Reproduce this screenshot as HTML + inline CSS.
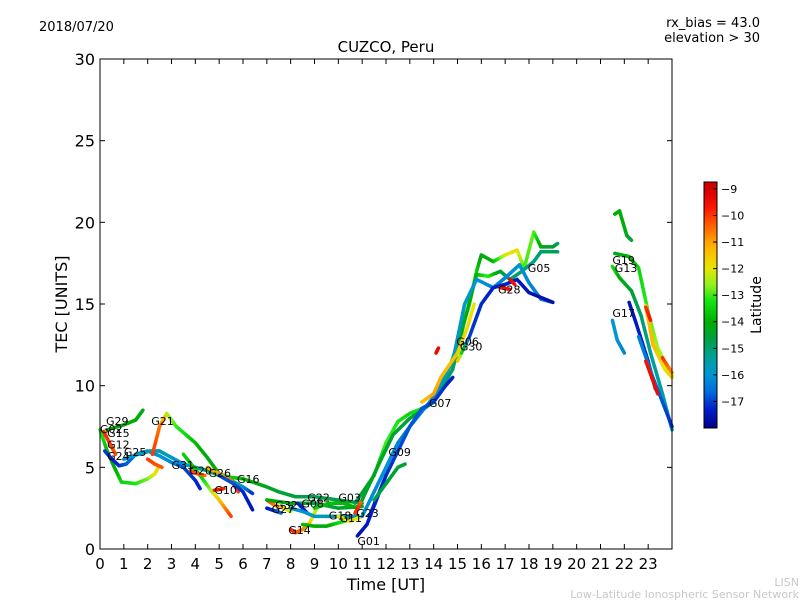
<!DOCTYPE html>
<html><head><meta charset="utf-8"><style>
body{margin:0;background:#fff;}
svg{display:block;font-family:"DejaVu Sans","Liberation Sans",sans-serif;}
</style></head><body>
<svg id="chart" width="800" height="600" viewBox="0 0 800 600" xmlns="http://www.w3.org/2000/svg">
<rect width="800" height="600" fill="#fff"/>
<text x="39" y="31" font-size="13">2018/07/20</text>
<text x="760" y="27" font-size="13" text-anchor="end">rx_bias = 43.0</text>
<text x="760" y="42" font-size="13" text-anchor="end">elevation &gt; 30</text>
<text x="386" y="52" font-size="15" text-anchor="middle">CUZCO, Peru</text>
<text x="386" y="590" font-size="16" text-anchor="middle">Time [UT]</text>
<text x="0" y="0" font-size="16" text-anchor="middle" transform="translate(67,304) rotate(-90)">TEC [UNITS]</text>
<text x="799" y="586" font-size="11" fill="#c8c8c8" text-anchor="end">LISN</text>
<text x="799" y="598" font-size="11" fill="#c8c8c8" text-anchor="end">Low-Latitude Ionospheric Sensor Network</text>
<g id="traces"></g>
<g id="labels"></g>
<rect x="100" y="59" width="572" height="490" fill="none" stroke="#000" stroke-width="1"/>
<g id="axes"></g>
<g id="cbar"></g>
<text x="0" y="0" font-size="14" text-anchor="middle" transform="translate(761,305) rotate(-90)">Latitude</text>
</svg>
<script>
const xTicks=[0,1,2,3,4,5,6,7,8,9,10,11,12,13,14,15,16,17,18,19,20,21,22,23];
const yTicks=[0,5,10,15,20,25,30];
const cbTicks=[-9,-10,-11,-12,-13,-14,-15,-16,-17];
const satNames=["G29","G02","G15","G12","G25","G24","G21","G31","G20","G26","G16","G10","G32","G27","G08","G22","G03","G18","G11","G23","G14","G01","G09","G07","G06","G30","G28","G05","G19","G13","G17"];
const labelTime=[0.25,0.0,0.3,0.3,1.0,0.3,2.15,3.0,3.75,4.55,5.75,4.8,7.35,7.2,8.45,8.7,10.0,9.6,10.05,10.75,7.9,10.8,12.1,13.8,14.95,15.1,16.7,17.95,21.5,21.6,21.5];
const labelTec=[7.85,7.35,7.1,6.4,5.95,5.7,7.85,5.15,4.8,4.65,4.3,3.6,2.7,2.45,2.8,3.15,3.15,2.05,1.9,2.2,1.15,0.5,5.95,8.95,12.7,12.4,15.9,17.2,17.7,17.2,14.45];
const traceTimes=[
[0.3,1.0,1.5,1.8],
[0.0,0.3,0.6,0.9,1.5,2.0,2.3,2.45],
[0.15,0.4,0.65],
[0.2,0.5,0.8,1.1,1.5,2.0,2.5,3.0,3.5,4.0,4.2],
[1.0,1.6,2.1,2.5,3.0,3.5,4.0,4.5,5.0,5.5,6.0,6.4],
[2.2,2.5,2.8],
[2.8,3.2,4.0,4.5,5.0,5.4,6.0,7.0,7.5,8.2,9.0,10.0,11.0],
[2.0,2.3,2.6],
[3.5,4.2,4.7,5.0,5.5],
[3.8,4.1,4.4],
[4.8,5.2],
[4.5,5.0,5.5,5.8],
[5.0,5.6,6.0,6.4],
[7.0,7.4,7.6],
[7.0,7.3,7.7,8.0],
[8.0,8.2,8.5,8.8,9.1],
[8.5,9.0,9.5,10.0,10.5],
[7.0,8.0,9.0,10.0,11.0],
[8.3,8.7],
[8.0,8.5,9.0,10.0,10.8],
[9.0,9.6,10.2,10.8],
[10.0,10.5,11.0],
[10.7,10.85,11.0],
[10.8,11.2,11.6,12.0],
[10.7,11.5,12.0,12.5,13.0,13.5,14.0,14.5,15.0,15.5,15.8,16.0,16.5,17.0,17.5,17.8,18.2,18.5,19.0,19.2],
[11.0,11.8,12.3,13.0,14.0,14.8,15.3,15.8,16.3,16.8,17.2,17.7,18.2,18.5,19.2],
[11.0,11.5,12.0,12.5,13.0,14.0,14.8,15.3,15.8,16.5,17.0,17.6,18.0,18.5,19.0],
[11.3,12.0,12.5,13.0,13.5,14.0,14.5,14.8],
[15.0,15.5,16.0,16.5,17.0,17.5,18.0,18.5,19.0],
[11.5,12.0,12.5,12.8],
[13.5,14.0,14.3,15.0,15.4,15.7],
[16.8,17.2],
[17.2,17.4],
[14.1,14.2],
[21.6,21.8,22.1,22.3],
[21.6,22.2,22.6,23.0,23.4,24.0],
[21.5,21.8,22.3,22.7,23.1,23.6,24.0],
[21.5,21.7,22.0],
[22.2,22.5,23.0,23.3],
[22.6,23.2,23.6,24.0],
[22.9,23.2,23.7,24.0],
[22.9,23.1],
[23.6,24.0],
[22.9,23.4]
];
const traceTec=[
[7.3,7.6,7.9,8.5],
[7.3,6.0,5.0,4.1,4.0,4.3,4.6,5.0],
[7.2,6.5,5.8],
[6.0,5.5,5.1,5.2,5.8,6.0,5.7,5.3,5.0,4.2,3.7],
[5.5,5.8,6.0,6.0,5.6,5.2,5.0,4.8,4.5,4.2,3.8,3.4],
[5.8,7.5,8.3],
[8.3,7.5,6.5,5.6,4.6,4.4,4.3,3.8,3.5,3.2,3.2,3.0,2.8],
[5.5,5.2,5.0],
[5.8,4.5,3.5,3.0,2.0],
[4.8,4.6,4.5],
[3.6,3.7],
[5.0,4.6,4.2,3.5],
[4.5,4.0,3.5,2.4],
[2.5,2.3,2.2],
[3.0,2.7,2.5,2.3],
[1.2,1.0,1.2,1.6,2.5],
[1.5,1.4,1.4,1.6,1.8],
[3.0,2.8,2.8,2.5,2.6],
[2.8,2.2],
[2.5,2.3,2.0,2.0,2.0],
[2.5,2.8,2.8,2.5],
[2.0,1.7,2.0],
[2.2,2.6,3.0],
[0.8,1.5,3.0,4.5],
[2.8,4.5,6.5,7.8,8.3,8.6,9.0,10.5,12.5,15.0,17.0,18.0,17.6,18.0,18.3,17.2,19.4,18.5,18.5,18.7],
[3.0,5.5,7.0,8.0,9.0,11.0,14.0,16.8,16.7,17.0,16.5,17.0,17.6,18.2,18.2],
[2.0,3.5,5.0,6.5,7.5,9.3,11.5,15.0,16.5,16.0,16.6,17.4,16.3,15.3,15.1],
[2.0,4.5,6.0,7.5,8.6,9.0,10.0,10.5],
[11.5,13.0,15.0,16.0,16.2,16.5,15.7,15.4,15.1],
[3.0,4.0,5.0,5.2],
[9.0,9.5,10.5,12.0,13.5,15.0],
[16.0,15.9],
[16.5,16.2],
[12.0,12.3],
[20.5,20.7,19.2,18.9],
[18.1,17.9,17.2,14.5,12.3,10.6],
[17.3,16.6,15.8,14.3,12.0,9.5,7.3],
[14.0,12.8,12.0],
[15.1,13.8,11.5,9.8],
[13.0,10.5,9.0,7.5],
[14.9,12.5,11.0,10.5],
[14.8,14.0],
[11.7,10.8],
[11.5,9.5]
];
const traceLat=[
[-13.8,-14.2,-14.0,-14.3],
[-13.0,-13.8,-14.2,-13.5,-13.2,-12.8,-12.0,-11.8],
[-9.8,-10.0,-10.3],
[-17.0,-17.3,-17.2,-16.8,-16.5,-16.3,-16.0,-16.2,-16.8,-17.2,-17.3],
[-16.0,-15.8,-15.6,-15.6,-15.8,-16.2,-15.5,-15.0,-14.8,-14.8,-16.0,-17.2],
[-10.0,-10.5,-11.5],
[-12.3,-13.0,-13.8,-14.2,-14.0,-13.5,-13.8,-14.3,-14.5,-14.6,-14.8,-14.7,-14.5],
[-10.0,-10.2,-10.3],
[-13.5,-13.8,-12.5,-11.5,-10.0],
[-10.0,-10.3,-10.5],
[-9.6,-9.8],
[-11.2,-11.0,-10.6,-10.0],
[-17.0,-16.8,-17.2,-17.5],
[-17.5,-17.0,-16.5],
[-10.0,-10.5,-11.5,-12.5],
[-9.8,-10.0,-10.5,-11.5,-12.5],
[-13.8,-14.0,-14.2,-13.5,-13.0],
[-14.0,-14.2,-14.5,-14.5,-14.3],
[-17.3,-17.5],
[-16.2,-16.0,-15.8,-15.5,-15.8],
[-13.5,-13.8,-13.8,-14.0],
[-12.0,-11.8,-12.2],
[-10.0,-9.8,-10.5],
[-17.6,-17.4,-17.0,-16.8],
[-15.0,-13.8,-13.0,-13.2,-13.5,-13.0,-12.5,-12.8,-13.2,-13.4,-13.5,-14.2,-14.0,-12.2,-11.8,-13.0,-12.8,-14.2,-14.5,-14.8],
[-14.5,-14.3,-14.6,-14.5,-14.8,-15.0,-14.2,-14.0,-13.0,-14.5,-14.8,-15.0,-15.2,-15.0,-14.8],
[-16.0,-16.2,-16.0,-16.2,-16.4,-16.2,-15.8,-15.8,-16.0,-16.2,-16.3,-16.0,-16.2,-16.4,-16.5],
[-17.3,-17.2,-17.0,-16.8,-16.8,-17.0,-17.2,-17.3],
[-11.0,-17.0,-17.2,-17.3,-17.3,-17.4,-17.5,-17.6,-17.6],
[-14.8,-14.6,-14.5,-14.5],
[-11.5,-11.0,-11.2,-11.5,-11.8,-12.0],
[-9.5,-9.5],
[-9.3,-9.6],
[-9.4,-9.4],
[-14.2,-14.0,-14.2,-14.5],
[-14.3,-14.0,-13.5,-13.0,-12.5,-12.5],
[-13.3,-14.0,-14.5,-15.0,-15.3,-15.5,-15.8],
[-16.0,-16.0,-16.3],
[-17.5,-17.4,-17.2,-16.8],
[-16.3,-16.5,-16.8,-17.2],
[-11.6,-11.2,-12.0,-11.6],
[-10.0,-9.6],
[-9.8,-10.8],
[-9.6,-9.4]
];
const NS="http://www.w3.org/2000/svg";
const X0=100,X1=672,Y0=549,Y1=59;
const cbTop=182,cbBot=428,vmax=-8.74,vmin=-18.0;
const cmapStops=[[-18.0,[0,0,140]],[-17.3,[0,30,200]],[-16.6,[0,110,220]],[-16.0,[0,150,210]],[-15.3,[0,160,150]],[-14.6,[0,160,60]],[-14.0,[0,175,0]],[-13.2,[20,230,20]],[-12.6,[150,240,30]],[-12.0,[230,230,0]],[-11.2,[255,180,0]],[-10.5,[255,110,0]],[-9.8,[255,30,0]],[-9.2,[225,0,0]],[-8.74,[200,0,0]]];
function xs(t){return X0+(t/24)*(X1-X0);}
function ys(v){return Y0-(v/30)*(Y0-Y1);}
function cy(l){return cbTop+(vmax-l)/(vmax-vmin)*(cbBot-cbTop);}
function jet(l){
  if(l<=cmapStops[0][0]) l=cmapStops[0][0];
  if(l>=cmapStops[cmapStops.length-1][0]) l=cmapStops[cmapStops.length-1][0];
  for(let i=0;i<cmapStops.length-1;i++){
    const a=cmapStops[i],b=cmapStops[i+1];
    if(l>=a[0]&&l<=b[0]){
      const f=(l-a[0])/(b[0]-a[0]||1);
      const c=a[1].map((v,k)=>Math.round(v+(b[1][k]-v)*f));
      return "rgb("+c.join(",")+")";
    }
  }
  return "rgb(200,0,0)";
}
const tg=document.getElementById('traces');
for(let i=0;i<traceTimes.length;i++){
  const T=traceTimes[i],V=traceTec[i],L=traceLat[i];
  for(let j=0;j<T.length-1;j++){
    const n=6;
    for(let k=0;k<n;k++){
      const a=k/n,b=(k+1)/n;
      const seg=document.createElementNS(NS,'line');
      
      
      seg.setAttribute('x1',xs(T[j]+(T[j+1]-T[j])*a));
      seg.setAttribute('y1',ys(V[j]+(V[j+1]-V[j])*a));
      seg.setAttribute('x2',xs(T[j]+(T[j+1]-T[j])*b));
      seg.setAttribute('y2',ys(V[j]+(V[j+1]-V[j])*b));
      seg.setAttribute('stroke',jet(L[j]+(L[j+1]-L[j])*(a+b)/2));
      seg.setAttribute('stroke-width','3.5');
      seg.setAttribute('stroke-linecap','round');
      tg.appendChild(seg);
    }
  }
}
const lg=document.getElementById('labels');
satNames.forEach((nm,i)=>{
  const t=document.createElementNS(NS,'text');
  
  
  t.setAttribute('x',xs(labelTime[i]));
  t.setAttribute('y',ys(labelTec[i])+4);
  t.setAttribute('font-size','11');
  t.textContent=nm;
  lg.appendChild(t);
});
const ag=document.getElementById('axes');
xTicks.forEach(v=>{
  const x=xs(v);
  const l=document.createElementNS(NS,'line');
  
  
  l.setAttribute('x1',x);l.setAttribute('x2',x);l.setAttribute('y1',Y0);l.setAttribute('y2',Y0-5);
  l.setAttribute('stroke','#000');ag.appendChild(l);
  const l2=document.createElementNS(NS,'line');
  
  
  l2.setAttribute('x1',x);l2.setAttribute('x2',x);l2.setAttribute('y1',Y1);l2.setAttribute('y2',Y1+5);
  l2.setAttribute('stroke','#000');ag.appendChild(l2);
  const t=document.createElementNS(NS,'text');
  
  
  t.setAttribute('x',x);t.setAttribute('y',Y0+20);t.setAttribute('font-size','15');t.setAttribute('text-anchor','middle');
  t.textContent=v;ag.appendChild(t);
});
yTicks.forEach(v=>{
  const y=ys(v);
  const l=document.createElementNS(NS,'line');
  
  
  l.setAttribute('x1',X0);l.setAttribute('x2',X0+5);l.setAttribute('y1',y);l.setAttribute('y2',y);
  l.setAttribute('stroke','#000');ag.appendChild(l);
  const l2=document.createElementNS(NS,'line');
  
  
  l2.setAttribute('x1',X1);l2.setAttribute('x2',X1-5);l2.setAttribute('y1',y);l2.setAttribute('y2',y);
  l2.setAttribute('stroke','#000');ag.appendChild(l2);
  const t=document.createElementNS(NS,'text');
  
  
  t.setAttribute('x',X0-5);t.setAttribute('y',y+6);t.setAttribute('font-size','16');t.setAttribute('text-anchor','end');
  t.textContent=v;ag.appendChild(t);
});
const cg=document.getElementById('cbar');
for(let y=cbTop;y<cbBot;y++){
  const r=document.createElementNS(NS,'rect');
  
  
  r.setAttribute('x',704);r.setAttribute('y',y);r.setAttribute('width',13);r.setAttribute('height',1.2);
  r.setAttribute('fill',jet(vmax-(y+0.5-cbTop)/(cbBot-cbTop)*(vmax-vmin)));
  cg.appendChild(r);
}
const fr=document.createElementNS(NS,'rect');


fr.setAttribute('x',704);fr.setAttribute('y',cbTop);fr.setAttribute('width',13);fr.setAttribute('height',cbBot-cbTop);
fr.setAttribute('fill','none');fr.setAttribute('stroke','#000');cg.appendChild(fr);
cbTicks.forEach(v=>{
  const y=cy(v);
  const l=document.createElementNS(NS,'line');
  
  
  l.setAttribute('x1',713);l.setAttribute('x2',717);l.setAttribute('y1',y);l.setAttribute('y2',y);
  l.setAttribute('stroke','#000');cg.appendChild(l);
  const t=document.createElementNS(NS,'text');
  
  
  t.setAttribute('x',721);t.setAttribute('y',y+4);t.setAttribute('font-size','11');
  t.textContent='\u2212'+Math.abs(v);cg.appendChild(t);
});
</script>
</body></html>
